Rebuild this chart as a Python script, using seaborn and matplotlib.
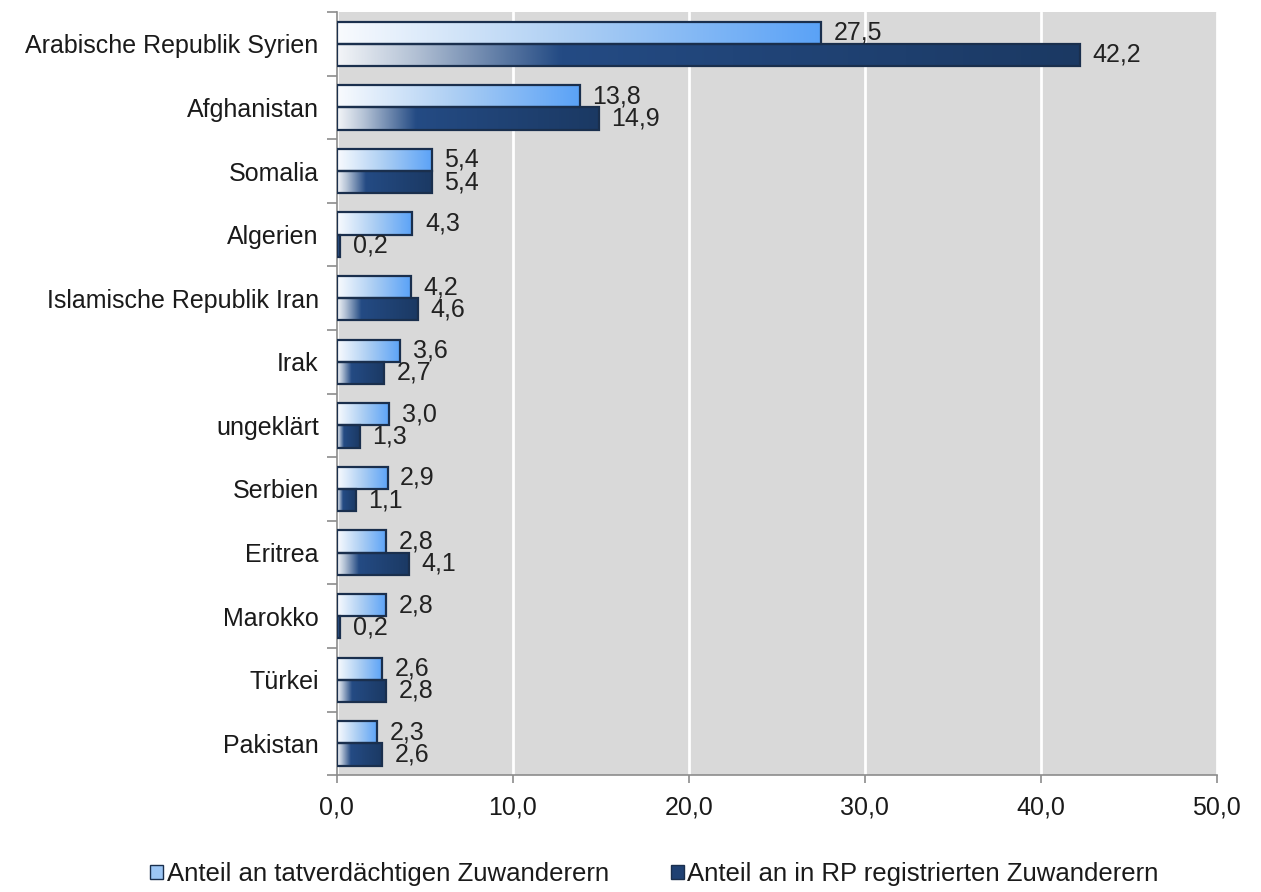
import numpy as np
import pandas as pd
import matplotlib
matplotlib.use("Agg")
import matplotlib.pyplot as plt
from matplotlib.colors import LinearSegmentedColormap
from matplotlib.patches import Patch
import seaborn as sns

countries = ["Arabische Republik Syrien", "Afghanistan", "Somalia", "Algerien",
             "Islamische Republik Iran", "Irak", "ungeklärt", "Serbien",
             "Eritrea", "Marokko", "Türkei", "Pakistan"]
suspects = [27.5, 13.8, 5.4, 4.3, 4.2, 3.6, 3.0, 2.9, 2.8, 2.8, 2.6, 2.3]
registered = [42.2, 14.9, 5.4, 0.2, 4.6, 2.7, 1.3, 1.1, 4.1, 0.2, 2.8, 2.6]
series = ["Anteil an tatverdächtigen Zuwanderern",
          "Anteil an in RP registrierten Zuwanderern"]
xticks = [0, 10, 20, 30, 40, 50]

df = pd.DataFrame({
    "Land": countries * 2,
    "Anteil": suspects + registered,
    "Reihe": [series[0]] * len(countries) + [series[1]] * len(countries),
})

sns.set_theme(style="white")
plt.rcParams["font.family"] = ["Liberation Sans", "DejaVu Sans"]

fig = plt.figure(figsize=(12.61, 8.92), dpi=100)
ax = fig.add_axes([0.267, 0.131, 0.698, 0.8555])
ax.set_facecolor("#d9d9d9")

sns.barplot(data=df, x="Anteil", y="Land", hue="Reihe", order=countries,
            hue_order=series, orient="h", width=0.7, ax=ax, legend=False,
            errorbar=None)

light_cmap = LinearSegmentedColormap.from_list(
    "light", [(0, "#f9fbfe"), (0.5, "#aacdf3"), (1, "#5aa2f7")])
dark_cmap = LinearSegmentedColormap.from_list(
    "dark", [(0, "#f3f5f8"), (0.1, "#b5c3d6"), (0.3, "#244b84"), (1, "#1b3963")])
grad = np.linspace(0, 1, 256).reshape(1, -1)

for cont, cmap in zip(ax.containers, [light_cmap, dark_cmap]):
    for bar in cont:
        x0, y0 = bar.get_x(), bar.get_y()
        w, h = bar.get_width(), bar.get_height()
        bar.set_facecolor("none")
        bar.set_edgecolor("#1a2f4d")
        bar.set_linewidth(1.6)
        bar.set_zorder(3)
        ax.imshow(grad, cmap=cmap, extent=[x0, x0 + w, y0 + h, y0],
                  aspect="auto", zorder=2, interpolation="bilinear")
    labels = [f"{v:.1f}".replace(".", ",") for v in cont.datavalues]
    ax.bar_label(cont, labels=labels, padding=9, fontsize=18, color="#222222")

ax.set_xlim(0, 50)
ax.set_ylim(len(countries) - 0.5, -0.5)
ax.set_xticks(xticks)
ax.set_xticklabels([f"{t:.1f}".replace(".", ",") for t in xticks])
ax.xaxis.grid(True, color="white", linewidth=2)
ax.set_axisbelow(True)
ax.set_xlabel("")
ax.set_ylabel("")

for side in ["top", "right"]:
    ax.spines[side].set_visible(False)
for side in ["left", "bottom"]:
    ax.spines[side].set_color("#8c8c8c")
    ax.spines[side].set_linewidth(1.2)

ax.tick_params(axis="x", which="major", direction="out", length=6, width=1.2,
               color="#8c8c8c", bottom=True, labelsize=18, pad=9, labelcolor="#1a1a1a")
ax.set_yticks(np.arange(-0.5, len(countries), 1), minor=True)
ax.tick_params(axis="y", which="minor", direction="out", length=7, width=1.2,
               color="#8c8c8c", left=True)
ax.tick_params(axis="y", which="major", length=0, labelsize=18, pad=13,
               labelcolor="#1a1a1a")

handles = [Patch(facecolor="#9cc6f5", edgecolor="#1a2f4d", linewidth=1.0),
           Patch(facecolor="#1f4173", edgecolor="#1a2f4d", linewidth=1.0)]
fig.legend(handles, series, loc="center", bbox_to_anchor=(0.519, 0.02), ncol=2,
           frameon=False, fontsize=18.5, handlelength=0.5, handleheight=0.5,
           handletextpad=0.15, columnspacing=2.4, labelcolor="#1a1a1a")

fig.savefig("out.png", dpi=100, facecolor="white")
